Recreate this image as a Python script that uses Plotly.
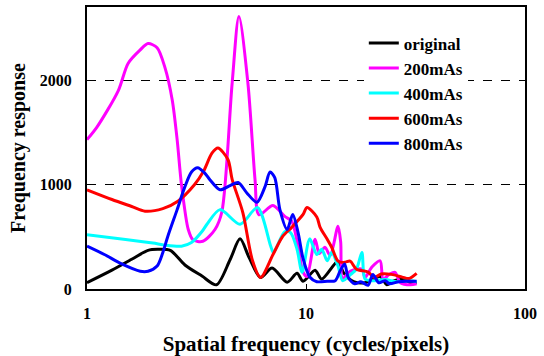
import plotly.graph_objects as go

# ---- data ----
orig_f = [1.0, 1.3, 1.6, 1.9, 2.1, 2.4, 2.8, 3.35, 3.9, 4.5, 5.0, 5.5, 6.2, 7.0, 8.2, 9.1, 9.7, 11.0, 11.8, 14.0, 14.8, 16.5, 18.6, 21.8, 23.4, 25.0, 27.8, 30.5, 32.0]
orig_v = [60, 180, 285, 370, 380, 370, 230, 124, 40, 280, 480, 300, 110, 200, 65, 150, 75, 180, 95, 265, 160, 70, 60, 120, 40, 75, 95, 55, 65]

m200_f = [1.0, 1.11, 1.39, 1.54, 1.75, 1.9, 2.09, 2.27, 2.45, 2.58, 2.7, 2.9, 3.05, 3.38, 3.84, 4.13, 4.6, 4.94, 5.43, 5.85, 6.1, 7.06, 8.0, 8.6, 9.2, 9.7, 10.1, 11.0, 11.5, 12.2, 12.9, 14.0, 14.4, 14.7, 15.9, 18.0, 18.6, 20.0, 21.8, 22.5, 24.0, 25.5, 27.0, 30.0, 32.0]
m200_v = [1430, 1550, 1900, 2160, 2290, 2350, 2310, 2120, 1810, 1430, 1000, 570, 470, 457, 570, 740, 1970, 2610, 1970, 1050, 710, 800, 695, 650, 410, 160, 120, 476, 340, 400, 320, 600, 450, 100, 170, 190, 110, 210, 270, 95, 140, 160, 60, 40, 50]

m400_f = [1.0, 1.5, 2.0, 2.27, 2.7, 3.0, 3.35, 3.53, 4.05, 5.0, 6.0, 6.9, 7.1, 8.0, 8.5, 9.1, 9.6, 10.4, 11.2, 11.8, 12.5, 13.1, 14.0, 14.7, 16.0, 17.0, 18.0, 18.6, 20.0, 23.0, 26.0, 30.0, 32.0]
m400_v = [520, 475, 440, 420, 410, 445, 550, 620, 760, 620, 780, 410, 350, 550, 540, 381, 160, 480, 330, 380, 270, 350, 220, 80, 140, 190, 350, 95, 80, 90, 70, 80, 70]

m600_f = [1.0, 1.3, 1.6, 1.84, 2.22, 2.6, 3.1, 3.4, 3.72, 3.96, 4.4, 4.6, 5.15, 5.7, 6.2, 7.07, 7.8, 8.6, 9.7, 10.1, 11.2, 11.6, 12.5, 13.1, 14.0, 15.0, 15.9, 17.0, 19.2, 20.5, 22.0, 24.5, 27.5, 29.5, 32.0]
m600_v = [950, 857, 790, 745, 770, 840, 1000, 1124, 1300, 1350, 1240, 1050, 730, 270, 110, 330, 500, 590, 714, 780, 690, 590, 476, 400, 267, 255, 267, 190, 162, 110, 143, 140, 114, 100, 150]

m800_f = [1.0, 1.2, 1.44, 1.75, 1.9, 2.09, 2.22, 2.34, 2.58, 2.8, 3.0, 3.2, 3.45, 3.64, 4.05, 4.5, 4.9, 5.37, 5.97, 6.5, 6.85, 7.2, 7.6, 8.2, 8.7, 9.2, 9.7, 10.4, 11.2, 12.5, 13.6, 14.3, 15.0, 15.6, 16.7, 17.8, 19.2, 20.2, 21.5, 23.0, 24.0, 26.5, 29.0, 32.0]
m800_v = [410, 330, 240, 170, 170, 220, 350, 505, 760, 980, 1120, 1160, 1110, 1047, 950, 990, 1020, 920, 830, 980, 1120, 1066, 760, 570, 714, 540, 290, 115, 70, 75, 80, 170, 240, 110, 50, 70, 35, 140, 60, 80, 50, 70, 75, 75]

series = [
    ("original", orig_f, orig_v, "#000000"),
    ("200mAs", m200_f, m200_v, "#FF00FF"),
    ("400mAs", m400_f, m400_v, "#00FFFF"),
    ("600mAs", m600_f, m600_v, "#FF0000"),
    ("800mAs", m800_f, m800_v, "#0000FF"),
]

x_ticks = [1, 10, 100]
x_ticklabels = ["1", "10", "100"]
y_ticks = [0, 1000, 2000]
y_ticklabels = ["0", "1000", "2000"]

FONT = "Liberation Serif"

fig = go.Figure()
for name, f, v, c in series:
    fig.add_trace(go.Scatter(
        x=f, y=v, name=name, mode="lines",
        line=dict(color=c, width=3, shape="spline", smoothing=0.8),
    ))

fig.update_layout(
    width=544, height=356,
    margin=dict(l=87, r=19, t=7, b=67, autoexpand=False),
    paper_bgcolor="white", plot_bgcolor="white",
    font=dict(family=FONT, size=15, color="black", weight="bold"),
    showlegend=True,
    legend=dict(
        x=0.632, y=0.935, xanchor="left", yanchor="top",
        bgcolor="white", borderwidth=0,
        font=dict(family=FONT, size=17, color="black", weight="bold"),
        tracegroupgap=0, itemwidth=30,
    ),
)

fig.update_xaxes(
    type="log", range=[0, 2], automargin=False,
    tickvals=x_ticks, ticktext=x_ticklabels,
    ticks="inside", ticklen=5, tickwidth=1, tickcolor="black",
    showline=True, linecolor="black", linewidth=2, mirror=True,
    showgrid=False, zeroline=False,
    ticklabelstandoff=9,
    tickfont=dict(family=FONT, size=16, weight="bold"),
    title=dict(text="Spatial frequency (cycles/pixels)", standoff=17,
               font=dict(family=FONT, size=21, weight="bold")),
)

fig.update_yaxes(
    range=[0, 2700], automargin=False,
    tickvals=y_ticks, ticktext=y_ticklabels,
    ticks="", ticklabelstandoff=10,
    showline=True, linecolor="black", linewidth=2, mirror=True,
    showgrid=True, gridcolor="black", gridwidth=1, griddash="dash",
    zeroline=False,
    tickfont=dict(family=FONT, size=16, weight="bold"),
    title=dict(text="Frequency response", standoff=9,
               font=dict(family=FONT, size=20, weight="bold")),
)

fig.write_html("out.html", config={"displayModeBar": False},
               post_script="document.body.style.margin='0';document.body.style.padding='0';")
